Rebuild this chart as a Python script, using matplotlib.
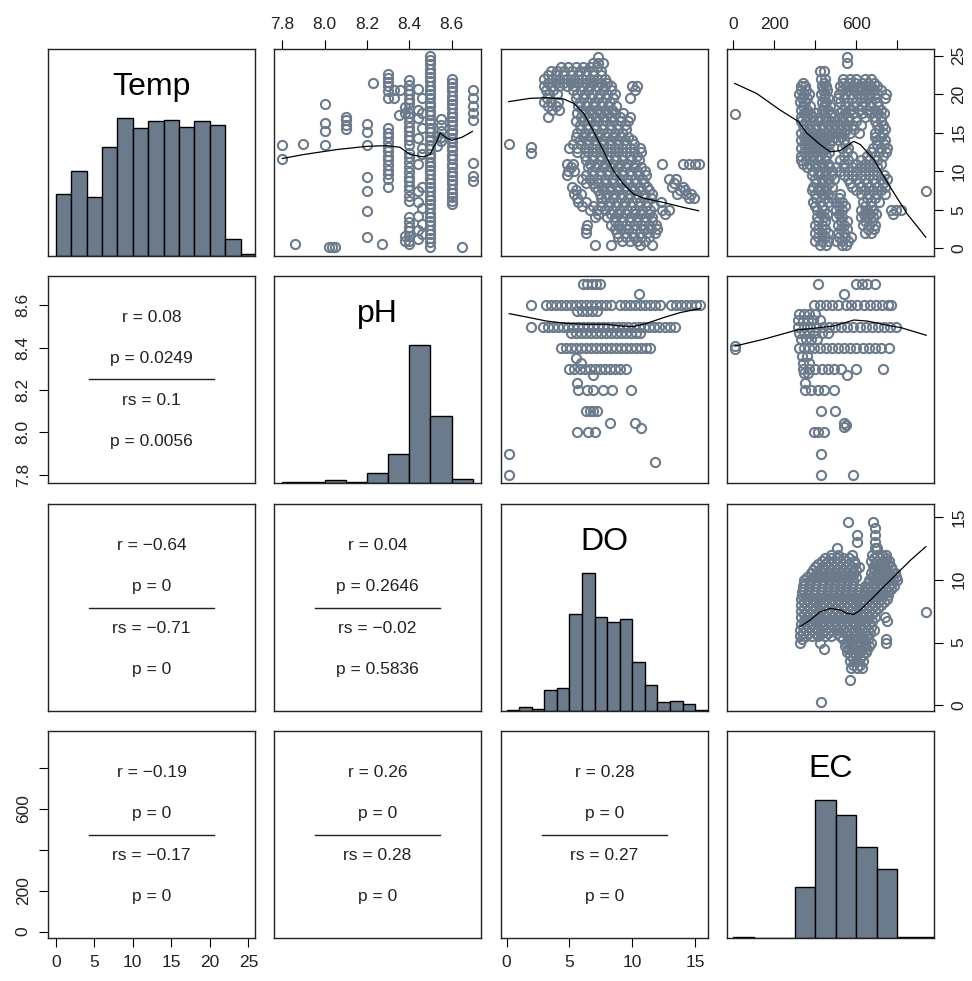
"""
Pairs plot of water quality variables (Temp, pH, DO, EC).
Histograms on the diagonal, scatter + smooth line above, correlations below.
"""

import matplotlib
matplotlib.use("Agg")
import matplotlib.pyplot as plt

plt.rcParams['font.family'] = ['Liberation Sans', 'DejaVu Sans']

SLATE = '#6C7B8B'
INK = '#222222'

variables = ['Temp', 'pH', 'DO', 'EC']

# axis ranges and ticks per variable
var_limits = {
    'Temp': (-1.0, 25.86),
    'pH': (7.761, 8.739),
    'DO': (-0.45, 16.03),
    'EC': (-31, 978),
}
var_ticks = {
    'Temp': [0, 5, 10, 15, 20, 25],
    'pH': [7.8, 8.0, 8.2, 8.4, 8.6],
    'DO': [0, 5, 10, 15],
    'EC': [0, 200, 400, 600, 800],
}
var_ticklabels = {
    'Temp': ['0', '5', '10', '15', '20', '25'],
    'pH': ['7.8', '8.0', '8.2', '8.4', '8.6'],
    'DO': ['0', '5', '10', '15'],
    'EC': ['0', '200', '', '600', ''],
}

# histogram breaks and counts
temp_breaks = [0, 2, 4, 6, 8, 10, 12, 14, 16, 18, 20, 22, 24, 26]
temp_counts = [36, 49, 34, 63, 80, 74, 78, 79, 75, 78, 76, 10, 1]
ph_breaks = [7.8, 7.9, 8.0, 8.1, 8.2, 8.3, 8.4, 8.5, 8.6, 8.7]
ph_counts = [4, 3, 9, 4, 30, 83, 396, 192, 12]
do_breaks = [0, 1, 2, 3, 4, 5, 6, 7, 8, 9, 10, 11, 12, 13, 14, 15, 16]
do_counts = [1, 4, 2, 19, 21, 88, 125, 85, 81, 83, 44, 24, 8, 9, 6, 1]
ec_breaks = [0, 100, 200, 300, 400, 500, 600, 700, 800, 900, 1000]
ec_counts = [2, 0, 0, 70, 190, 169, 125, 95, 1, 1]

# scatter: pH (x) vs Temp (y), as columns (pH, [Temp values])
ph_temp_cols = [
    (7.80, [13.4, 11.6]),
    (7.86, [0.5]),
    (7.90, [13.5]),
    (8.00, [18.7, 16.3, 15.2, 13.4]),
    (8.02, [0.2]), (8.035, [0.2]), (8.05, [0.2]),
    (8.10, [17.1, 16.6, 16.0, 15.5]),
    (8.20, [16.1, 15.1, 13.4, 9.2, 7.4, 4.9, 1.5]),
    (8.23, [21.5]),
    (8.27, [0.5]),
    (8.30, [22.6, 22.1, 21.6, 21.0, 20.4, 19.5, 15.6, 15.0, 14.4, 13.8, 13.2,
            12.6, 12.0, 11.4, 10.8, 10.2, 9.6, 9.0, 7.9]),
    (8.33, [20.6, 19.5]), (8.355, [20.5]),
    (8.35, [17.3]),
    (8.38, [18.3, 17.6, 1.6, 0.9]),
    (8.40, [21.8, 21.2, 20.6, 20.0, 19.4, 18.8, 18.2, 17.6, 17.0, 16.4, 15.8,
            15.2, 14.6, 14.0, 13.4, 12.4, 11.8, 11.2, 10.5, 9.9, 9.3, 8.7, 8.1,
            7.5, 6.8, 6.2, 4.0, 3.4, 2.8, 2.2, 1.6, 1.0, 0.5]),
    (8.44, [20.7, 18.0, 16.9, 14.3, 10.9, 7.4, 6.0, 4.2, 2.4, 1.2]),
    (8.46, [19.5, 17.6, 15.6, 13.0, 12.2, 8.0, 5.2, 3.2, 1.8]),
    (8.50, [24.9, 24.4, 23.9, 23.3, 22.8, 22.2, 21.7, 21.1, 20.6, 20.0, 19.5,
            18.9, 18.4, 17.8, 17.3, 16.7, 16.2, 15.6, 15.1, 14.5, 14.0, 13.4,
            12.9, 12.3, 11.8, 11.2, 10.7, 10.1, 9.6, 9.0, 8.5, 7.9, 7.4, 6.8,
            6.3, 5.7, 5.2, 4.6, 4.1, 3.5, 3.0, 2.4, 1.9, 1.3, 0.8, 0.2]),
    (8.53, [14.6, 13.3]),
    (8.55, [16.8, 16.0, 15.2, 14.5, 13.9]),
    (8.60, [22.0, 21.5, 20.9, 20.4, 19.8, 19.3, 18.7, 18.2, 17.6, 17.1, 16.5,
            16.0, 15.4, 14.9, 14.3, 13.8, 13.2, 12.7, 12.1, 11.6, 11.0, 10.5,
            9.9, 9.4, 8.8, 8.3, 7.7, 7.2, 6.6, 6.1, 5.8]),
    (8.65, [0.2]),
    (8.70, [20.5, 19.5, 18.4, 17.5, 16.7, 11.1, 9.4, 8.7]),
]

# scatter: DO (x) vs Temp (y), as rows (Temp, [DO values])
temp_do_rows = [
    (24.8, [7.3]),
    (24.0, [6.9, 7.3, 7.7]),
    (23.5, [4.3, 4.9, 5.5, 6.1, 6.6, 7.2]),
    (23.0, [3.5, 4.0, 4.6, 5.2, 5.8, 6.3, 6.9, 7.5]),
    (22.5, [3.3, 3.9, 4.5, 5.1, 5.7, 6.3, 6.9, 7.5]),
    (22.0, [3.0, 3.6, 4.2, 4.8, 5.4, 6.0, 6.6, 7.2, 7.8]),
    (21.5, [3.3, 3.9, 4.5, 5.1, 5.7, 6.3, 6.9, 7.5, 8.0]),
    (21.0, [3.0, 3.6, 4.2, 4.8, 5.4, 6.0, 6.6, 7.2, 7.8, 8.3, 10.0, 10.4]),
    (20.5, [3.1, 3.7, 5.3, 5.9, 6.5, 7.1, 7.7, 8.3, 10.2]),
    (20.0, [3.4, 4.0, 5.6, 6.2, 6.8, 7.4, 8.0, 8.6]),
    (19.5, [3.2, 5.5, 6.1, 6.7, 7.3, 7.9, 8.5, 9.8]),
    (19.0, [3.0, 3.5, 4.1, 5.8, 6.4, 7.0, 7.6, 8.2]),
    (18.5, [3.3, 3.9, 5.7, 6.3, 6.9, 7.5, 8.1, 8.7]),
    (18.0, [3.6, 4.2, 6.0, 6.6, 7.2, 7.8, 8.4]),
    (17.5, [5.6, 6.2, 6.8, 7.4, 8.0, 8.6, 9.3]),
    (17.0, [3.3, 5.9, 6.5, 7.1, 7.7, 8.3, 9.0, 9.8]),
    (16.5, [5.5, 6.1, 6.7, 7.3, 7.9, 8.5, 9.1, 9.7]),
    (16.0, [5.8, 6.4, 7.0, 7.6, 8.2, 8.8, 9.4]),
    (15.5, [5.9, 6.5, 7.1, 7.7, 8.3, 8.9, 9.5]),
    (15.0, [5.6, 6.2, 6.8, 7.4, 8.0, 8.6, 9.2]),
    (14.5, [5.5, 6.1, 6.7, 7.3, 7.9, 8.5, 9.1, 9.7]),
    (14.0, [5.8, 6.4, 7.0, 7.6, 8.2, 8.8, 9.4, 10.0]),
    (13.5, [0.16, 5.3, 5.9, 6.5, 7.1, 7.7, 8.3, 8.9, 9.5, 10.1]),
    (13.0, [5.0, 5.6, 6.2, 6.8, 7.4, 8.0, 8.6, 9.2, 9.8, 10.6]),
    (12.5, [5.6, 6.5, 7.1, 7.7, 8.3, 8.9, 9.5, 10.1, 10.7]),
    (12.0, [6.2, 6.8, 7.4, 8.0, 8.6, 9.2, 9.8, 10.4]),
    (11.5, [6.3, 6.9, 7.5, 8.1, 8.7, 9.3, 9.9, 10.5]),
    (11.0, [4.8, 5.3, 6.6, 7.2, 7.8, 8.4, 9.0, 9.6, 10.2, 12.4, 14.0, 14.5,
            15.0, 15.3]),
    (10.5, [5.1, 6.5, 7.1, 7.7, 8.3, 8.9, 9.5, 10.1, 10.7]),
    (10.0, [4.9, 5.4, 6.8, 7.4, 8.0, 8.6, 9.2, 9.8, 10.4, 11.0]),
    (9.5, [4.8, 6.3, 6.9, 7.5, 8.1, 8.7, 9.3, 9.9, 10.5, 11.1]),
    (9.0, [6.0, 6.6, 7.2, 7.8, 8.4, 9.0, 9.6, 10.2, 10.8, 12.9, 13.5]),
    (8.5, [6.3, 6.9, 7.3, 7.9, 8.5, 9.1, 9.7, 10.3, 10.9, 13.3]),
    (8.0, [5.2, 7.0, 7.6, 8.2, 8.8, 9.4, 10.0, 10.6, 11.2, 13.2, 14.0]),
    (7.5, [5.5, 7.3, 7.7, 8.3, 8.9, 9.5, 10.1, 10.7, 11.3, 13.8, 14.2]),
    (7.0, [5.4, 5.9, 7.4, 8.0, 8.6, 9.2, 9.8, 10.4, 11.0, 11.6, 13.6, 14.3,
           14.7]),
    (6.5, [5.6, 7.5, 7.9, 8.5, 9.1, 9.7, 10.3, 10.9, 11.5, 14.5, 14.9]),
    (6.0, [5.7, 6.3, 7.6, 8.2, 8.8, 9.4, 10.0, 10.6, 11.2, 12.3]),
    (5.5, [6.0, 6.9, 7.5, 8.1, 8.7, 9.3, 9.9, 10.5, 11.1, 11.7]),
    (5.0, [6.6, 7.2, 7.8, 8.4, 9.0, 9.6, 10.2, 10.8, 11.4, 12.4, 12.9]),
    (4.5, [7.3, 8.3, 8.9, 9.5, 10.1, 10.7, 11.3, 12.6]),
    (4.0, [7.0, 8.0, 8.6, 9.2, 9.8, 10.4, 11.0, 11.6]),
    (3.5, [8.6, 9.2, 9.8, 10.4, 11.0, 11.6]),
    (3.0, [6.4, 8.3, 8.9, 9.5, 10.1, 10.7, 11.3, 11.9]),
    (2.5, [6.3, 8.6, 9.1, 9.7, 10.3, 10.9, 11.5, 12.0]),
    (2.0, [6.3, 8.8, 9.4, 10.0, 10.6, 11.2, 11.8]),
    (1.5, [8.9, 9.5, 10.1, 10.7, 11.3]),
    (1.0, [9.2, 9.8, 10.4, 11.0]),
    (0.4, [7.0, 8.3, 10.6, 11.6]),
    (13.2, [1.9]),
    (12.4, [1.9]),
]

# scatter: EC (x) vs Temp (y), rows (Temp, [EC values])
temp_ec_rows = [
    (24.8, [554]), (24.0, [554]),
    (23.0, [420, 440]),
    (22.0, [425, 445, 535, 570, 600, 640, 670]),
    (21.5, [340, 440, 535, 565, 595, 625, 655, 685]),
    (21.0, [330, 350, 430, 450, 520, 550, 580, 610, 640, 670, 700]),
    (20.5, [330, 355, 435, 455, 530, 560, 590, 620, 650, 685, 720]),
    (20.0, [320, 345, 370, 425, 445, 515, 545, 575, 605, 635, 665, 700, 745]),
    (19.5, [335, 360, 440, 460, 510, 540, 580, 620, 655, 690, 740]),
    (19.0, [325, 350, 430, 450, 520, 560, 600, 640, 670, 700]),
    (18.5, [340, 375, 440, 470, 545, 585, 625, 665, 705]),
    (18.0, [330, 360, 430, 460, 530, 570, 610, 650, 690, 720]),
    (17.5, [345, 375, 405, 440, 475, 515, 545, 585, 625, 665, 705, 735]),
    (17.0, [330, 360, 390, 420, 450, 490, 530, 560, 600, 640, 690, 720]),
    (16.5, [330, 355, 385, 415, 445, 475, 505, 535, 565, 600, 690, 720]),
    (16.0, [340, 370, 400, 430, 460, 490, 520, 550, 580, 620, 700, 730]),
    (15.5, [345, 375, 405, 435, 465, 495, 525, 555, 590, 710, 740]),
    (15.0, [330, 360, 390, 420, 450, 480, 510, 540, 570, 610, 690, 730]),
    (14.5, [345, 375, 405, 435, 465, 495, 525, 690, 720]),
    (14.0, [330, 360, 390, 420, 450, 480, 510, 540, 700, 740]),
    (13.5, [345, 375, 405, 435, 465, 545, 700, 735]),
    (13.0, [330, 360, 390, 420, 450, 530, 560, 680, 720, 750]),
    (12.5, [345, 375, 405, 435, 465, 555, 670, 710, 745]),
    (12.0, [330, 360, 390, 420, 450, 540, 580, 650, 690, 730]),
    (11.5, [330, 355, 385, 415, 445, 520, 560, 620, 660, 700]),
    (11.0, [340, 370, 400, 430, 460, 540, 600, 640, 680, 720]),
    (10.5, [360, 405, 435, 465, 500, 540, 580, 620, 660, 700]),
    (10.0, [390, 420, 450, 480, 520, 560, 600, 640, 680]),
    (9.5, [385, 415, 445, 475, 540, 580, 620, 660, 700, 735]),
    (9.0, [400, 430, 460, 490, 560, 600, 640, 680, 720, 750]),
    (8.5, [405, 435, 465, 570, 610, 650, 690, 730]),
    (8.0, [390, 420, 450, 480, 580, 620, 660, 700, 740]),
    (7.5, [385, 415, 445, 600, 640, 680, 720]),
    (7.0, [400, 430, 460, 520, 620, 660, 700, 740]),
    (6.5, [405, 445, 480, 515, 650, 690]),
    (6.0, [390, 420, 460, 500, 530, 630, 670, 710]),
    (5.5, [400, 430, 515, 545, 640, 670]),
    (5.0, [410, 440, 500, 530, 620, 650, 680, 770, 795, 815]),
    (4.5, [425, 455, 515, 635, 665, 695, 780]),
    (4.0, [410, 440, 500, 530, 620, 650, 680]),
    (3.5, [415, 445, 525, 555, 640, 675]),
    (3.0, [400, 430, 510, 540, 630, 660, 690]),
    (2.5, [415, 445, 525, 555, 655, 685]),
    (2.0, [400, 430, 460, 510, 540, 640, 670]),
    (1.5, [415, 445, 515, 545, 575]),
    (1.0, [400, 430, 460, 500, 530, 560]),
    (0.4, [420, 450, 530, 550]),
    (17.4, [7]),
    (7.4, [938]),
]

# scatter: DO (x) vs pH (y), rows (pH, [DO values])
ph_do_rows = [
    (8.70, [6.1, 6.4, 6.8, 7.1, 7.4]),
    (8.656, [10.5]),
    (8.60, [1.9, 3.1, 3.5, 3.9, 4.3, 4.7, 5.1, 5.5, 5.9, 6.3, 6.7, 7.1, 7.5,
            7.9, 8.3, 9.0, 9.4, 9.8, 10.2, 10.6, 11.0, 11.4, 11.8, 12.2, 13.1,
            13.5, 13.9, 14.3, 14.7, 15.1, 15.4]),
    (8.575, [5.6, 6.0, 6.4, 6.8, 7.2]),
    (8.50, [1.9, 2.9, 3.3, 3.7, 4.1, 4.5, 4.9, 5.3, 5.7, 6.1, 6.5, 6.9, 7.3,
            7.7, 8.1, 8.5, 8.9, 9.3, 9.7, 10.1, 10.5, 10.9, 11.3, 11.7, 12.1,
            12.6, 13.0, 13.4]),
    (8.47, [5.1, 5.5, 5.9, 6.3, 6.7, 7.1, 7.5, 7.9, 8.3, 8.7, 9.1, 9.5, 9.9,
            10.3, 10.6]),
    (8.40, [4.3, 4.7, 5.1, 5.5, 5.9, 6.3, 6.7, 7.1, 7.5, 7.9, 8.3, 8.7, 9.1,
            9.5, 9.9, 10.3, 10.7, 11.1, 11.4]),
    (8.35, [5.5]), (8.33, [5.9]),
    (8.30, [5.0, 5.4, 5.8, 6.2, 6.6, 7.0, 7.4, 7.8, 8.2, 8.6, 9.0, 9.5]),
    (8.27, [6.9]),
    (8.235, [5.6]),
    (8.20, [5.7, 6.4, 6.9, 7.7, 8.4, 9.9]),
    (8.10, [6.3, 6.6, 6.9, 7.2]),
    (8.045, [8.2, 10.2]),
    (8.02, [10.7]),
    (8.00, [5.6, 6.5, 7.0]),
    (7.86, [11.8]),
    (7.90, [0.21]),
    (7.80, [0.21]),
]

# scatter: EC (x) vs pH (y), rows (pH, [EC values])
ph_ec_rows = [
    (8.70, [415, 600, 625, 650, 690]),
    (8.656, [539]),
    (8.60, [392, 420, 450, 480, 510, 548, 575, 605, 635, 665, 695, 725, 755,
            768]),
    (8.56, [320, 345, 370, 400]),
    (8.53, [315, 340, 365, 390, 420]),
    (8.50, [315, 345, 375, 405, 435, 465, 495, 525, 555, 585, 615, 645, 675,
            705, 735, 765, 795]),
    (8.47, [320, 345, 370, 400, 430, 460]),
    (8.44, [330, 355, 380, 410]),
    (8.40, [320, 345, 370, 395, 420, 450, 480, 510, 540, 570, 600, 630, 660,
            690, 720, 760]),
    (8.36, [335, 360]),
    (8.33, [340, 370]),
    (8.30, [340, 370, 400, 430, 460, 490, 523, 596, 727]),
    (8.28, [345, 365]),
    (8.27, [555]),
    (8.235, [350]),
    (8.20, [351, 380, 415, 441, 490]),
    (8.10, [425, 495]),
    (8.045, [539]), (8.035, [547]), (8.025, [539]),
    (8.00, [392, 415, 441]),
    (7.90, [428]),
    (7.80, [428, 585]),
    (8.408, [8]),
    (8.392, [8]),
]

# scatter: EC (x) vs DO (y), rows (DO, [EC values])
do_ec_rows = [
    (14.6, [557, 682]),
    (14.1, [688]),
    (13.6, [603, 690]),
    (13.0, [603, 692]),
    (12.5, [505, 690, 700]),
    (12.0, [475, 510, 580, 675, 700, 725, 745]),
    (11.75, [445, 475, 505, 535, 565, 685, 715, 745]),
    (11.5, [430, 460, 490, 520, 550, 590, 670, 700, 730, 760]),
    (11.25, [415, 445, 475, 505, 535, 565, 595, 695, 725, 755]),
    (11.0, [400, 430, 460, 490, 520, 550, 580, 610, 680, 710, 740, 770]),
    (10.75, [390, 420, 450, 480, 510, 540, 570, 600, 685, 715, 745, 775]),
    (10.5, [380, 410, 440, 470, 500, 530, 560, 590, 670, 700, 730, 760, 790]),
    (10.25, [360, 390, 420, 450, 480, 510, 540, 570, 600, 675, 705, 735, 765,
             795]),
    (10.0, [345, 375, 405, 435, 465, 495, 525, 555, 585, 660, 690, 720, 750,
            780, 800]),
    (9.75, [345, 375, 405, 435, 465, 495, 525, 555, 585, 655, 685, 715, 745,
            775]),
    (9.5, [340, 370, 400, 430, 460, 490, 520, 550, 580, 640, 670, 700, 730,
           760, 785]),
    (9.25, [340, 370, 400, 430, 460, 490, 520, 550, 580, 610, 650, 680, 710,
            740, 770]),
    (9.0, [335, 365, 395, 425, 455, 485, 515, 545, 575, 605, 635, 665, 695,
           725, 755]),
    (8.75, [335, 365, 395, 425, 455, 485, 515, 545, 575, 605, 635, 665, 695,
            725, 755]),
    (8.5, [330, 360, 390, 420, 450, 480, 510, 540, 570, 600, 630, 660, 690,
           720, 750]),
    (8.25, [345, 375, 405, 435, 465, 495, 525, 555, 585, 615, 645, 675, 705,
            735]),
    (8.0, [330, 360, 390, 420, 450, 480, 510, 540, 570, 600, 630, 660, 690,
           720]),
    (7.75, [345, 375, 405, 435, 465, 495, 525, 555, 585, 615, 645, 675, 705]),
    (7.5, [330, 360, 390, 420, 450, 480, 510, 540, 570, 600, 630, 660, 690]),
    (7.25, [345, 375, 405, 435, 465, 495, 525, 555, 585, 615, 645, 675]),
    (7.0, [330, 360, 390, 420, 450, 480, 510, 540, 570, 600, 630, 660, 690,
           740]),
    (6.75, [345, 375, 405, 435, 465, 495, 525, 555, 585, 615, 645, 675, 750]),
    (6.5, [330, 360, 390, 420, 450, 480, 510, 540, 570, 600, 630, 660]),
    (6.25, [340, 370, 400, 430, 460, 490, 520, 550, 580, 610, 640, 670]),
    (6.0, [325, 355, 385, 415, 445, 475, 505, 535, 565, 595, 625, 655, 685]),
    (5.75, [340, 370, 400, 430, 460, 505, 545, 575, 605, 635, 665]),
    (5.5, [325, 355, 385, 415, 445, 475, 520, 560, 590, 620, 650]),
    (5.25, [335, 535, 565, 595, 625, 655, 745]),
    (5.0, [325, 420, 550, 580, 610, 640, 670, 745]),
    (4.75, [545, 575, 605, 635, 660]),
    (4.5, [440, 560, 590, 620, 650]),
    (4.25, [555, 585, 615, 645]),
    (4.0, [570, 600, 630]),
    (3.75, [585, 615]),
    (3.5, [570, 600, 630]),
    (3.25, [585, 615]),
    (3.0, [575, 605, 625]),
    (2.0, [570]),
    (0.3, [428]),
    (7.45, [938]),
]

# smooth (loess) lines
loess_ph_temp_x = [7.80, 7.90, 8.057, 8.20, 8.294, 8.356, 8.404, 8.467, 8.498,
                   8.530, 8.546, 8.577, 8.601, 8.648, 8.698]
loess_ph_temp_y = [11.65, 12.16, 12.81, 13.23, 13.32, 13.11, 12.16, 11.86,
                   12.16, 13.88, 14.95, 14.31, 14.01, 14.39, 15.16]
loess_do_temp_x = [0.16, 1.88, 3.21, 4.54, 5.33, 6.13, 6.92, 7.72, 8.51, 9.31,
                   10.11, 10.90, 12.50, 14.09, 15.28]
loess_do_temp_y = [19.03, 19.46, 19.54, 19.37, 18.81, 17.53, 15.17, 12.60,
                   10.03, 8.31, 7.03, 6.50, 5.94, 5.30, 4.87]
loess_ec_temp_x = [6.7, 112.9, 227.3, 317.2, 358.0, 423.4, 472.4, 521.4, 586.8,
                   619.4, 684.8, 766.2, 848.0, 938.0]
loess_ec_temp_y = [21.39, 20.10, 17.95, 16.45, 14.95, 13.45, 12.51, 12.68,
                   13.88, 13.45, 11.52, 7.87, 4.44, 1.44]
loess_do_ph_x = [0.21, 1.86, 3.18, 4.77, 6.37, 7.96, 9.02, 10.08, 11.15, 12.47,
                 13.8, 15.39]
loess_do_ph_y = [8.561, 8.542, 8.526, 8.515, 8.511, 8.511, 8.503, 8.500, 8.515,
                 8.542, 8.566, 8.585]
loess_ec_ph_x = [8.2, 147, 310, 392, 490, 588, 654, 752, 817, 940]
loess_ec_ph_y = [8.408, 8.44, 8.484, 8.492, 8.503, 8.531, 8.526, 8.506, 8.495,
                 8.459]
loess_ec_do_x = [325.2, 374, 423.4, 472.4, 521.4, 554, 586.8, 619.4, 668.3,
                 733.7, 799, 864.4, 938]
loess_ec_do_y = [6.26, 6.79, 7.45, 7.72, 7.59, 7.32, 7.24, 7.59, 8.38, 9.45,
                 10.51, 11.57, 12.63]

# correlation summaries for the lower panels: (row, col) -> lines
cor_text = {
    (1, 0): ['r = 0.08', 'p = 0.0249', 'rs = 0.1', 'p = 0.0056'],
    (2, 0): ['r = \u22120.64', 'p = 0', 'rs = \u22120.71', 'p = 0'],
    (2, 1): ['r = 0.04', 'p = 0.2646', 'rs = \u22120.02', 'p = 0.5836'],
    (3, 0): ['r = \u22120.19', 'p = 0', 'rs = \u22120.17', 'p = 0'],
    (3, 1): ['r = 0.26', 'p = 0', 'rs = 0.28', 'p = 0'],
    (3, 2): ['r = 0.28', 'p = 0', 'rs = 0.27', 'p = 0'],
}


def cols_to_xy(cols):
    xs, ys = [], []
    for x, yvals in cols:
        xs += [x] * len(yvals)
        ys += list(yvals)
    return xs, ys


def rows_to_xy(rows):
    xs, ys = [], []
    for y, xvals in rows:
        xs += list(xvals)
        ys += [y] * len(xvals)
    return xs, ys


hist_data = {
    'Temp': (temp_breaks, temp_counts),
    'pH': (ph_breaks, ph_counts),
    'DO': (do_breaks, do_counts),
    'EC': (ec_breaks, ec_counts),
}

ph_temp_x, ph_temp_y = cols_to_xy(ph_temp_cols)
do_temp_x, do_temp_y = rows_to_xy(temp_do_rows)
ec_temp_x, ec_temp_y = rows_to_xy(temp_ec_rows)
do_ph_x, do_ph_y = rows_to_xy(ph_do_rows)
ec_ph_x, ec_ph_y = rows_to_xy(ph_ec_rows)
ec_do_x, ec_do_y = rows_to_xy(do_ec_rows)

scatter_data = {
    (0, 1): (ph_temp_x, ph_temp_y, loess_ph_temp_x, loess_ph_temp_y),
    (0, 2): (do_temp_x, do_temp_y, loess_do_temp_x, loess_do_temp_y),
    (0, 3): (ec_temp_x, ec_temp_y, loess_ec_temp_x, loess_ec_temp_y),
    (1, 2): (do_ph_x, do_ph_y, loess_do_ph_x, loess_do_ph_y),
    (1, 3): (ec_ph_x, ec_ph_y, loess_ec_ph_x, loess_ec_ph_y),
    (2, 3): (ec_do_x, ec_do_y, loess_ec_do_x, loess_ec_do_y),
}


def draw_hist(ax, name):
    breaks, counts = hist_data[name]
    top = max(counts)
    for k, c in enumerate(counts):
        ax.bar(breaks[k], c / top, width=breaks[k + 1] - breaks[k], align='edge',
               color=SLATE, edgecolor='black', linewidth=1.0)
    ax.set_ylim(0, 1.5)
    ax.text(0.5, 0.78, name, transform=ax.transAxes, ha='center',
            va='baseline', fontsize=23, color='black')


def draw_scatter(ax, key):
    x, y, lx, ly = scatter_data[key]
    ax.plot(x, y, 'o', ms=6.6, mfc='none', mec=SLATE, mew=1.5)
    ax.plot(lx, ly, color='black', lw=0.9)


def draw_cor(ax, lines):
    for txt, yy in zip(lines, [0.8, 0.6, 0.4, 0.2]):
        ax.text(0.5, yy, txt, transform=ax.transAxes, ha='center',
                va='center', fontsize=12.5, color=INK)
    ax.plot([0.2, 0.8], [0.5, 0.5], transform=ax.transAxes, color=INK, lw=1.0)


def style_ticks(ax):
    ax.tick_params(direction='out', length=6.5, width=0.8, pad=6,
                   labelsize=12.5, color='black', labelcolor=INK)


fig = plt.figure(figsize=(9.72, 9.81), dpi=100)
W, H = 972.0, 981.0
col_left = [48, 274, 501, 727]
row_top = [49, 276, 504, 731]
size = 207

for i in range(4):
    for j in range(4):
        ax = fig.add_axes([col_left[j] / W, 1 - (row_top[i] + size) / H,
                           size / W, size / H])
        xv, yv = variables[j], variables[i]
        ax.set_xlim(var_limits[xv])
        if i != j:
            ax.set_ylim(var_limits[yv])
        ax.set_xticks([])
        ax.set_yticks([])
        for sp in ax.spines.values():
            sp.set_linewidth(1.0)
            sp.set_color(INK)

        if i == j:
            draw_hist(ax, xv)
        elif j > i:
            draw_scatter(ax, (i, j))
        else:
            draw_cor(ax, cor_text[(i, j)])

        style_ticks(ax)
        # outer axes alternate sides like R's pairs()
        if i == 0 and j % 2 == 1:
            ax.xaxis.set_ticks_position('top')
            ax.set_xticks(var_ticks[xv])
            ax.set_xticklabels(var_ticklabels[xv])
        if i == 3 and j % 2 == 0:
            ax.xaxis.set_ticks_position('bottom')
            ax.set_xticks(var_ticks[xv])
            ax.set_xticklabels(var_ticklabels[xv])
        if j == 0 and i % 2 == 1:
            ax.yaxis.set_ticks_position('left')
            ax.set_yticks(var_ticks[yv])
            ax.set_yticklabels(var_ticklabels[yv], rotation=90, va='center')
        if j == 3 and i % 2 == 0:
            ax.yaxis.set_ticks_position('right')
            ax.set_yticks(var_ticks[yv])
            ax.set_yticklabels(var_ticklabels[yv], rotation=90, va='center')

fig.savefig('out.png', dpi=100)
